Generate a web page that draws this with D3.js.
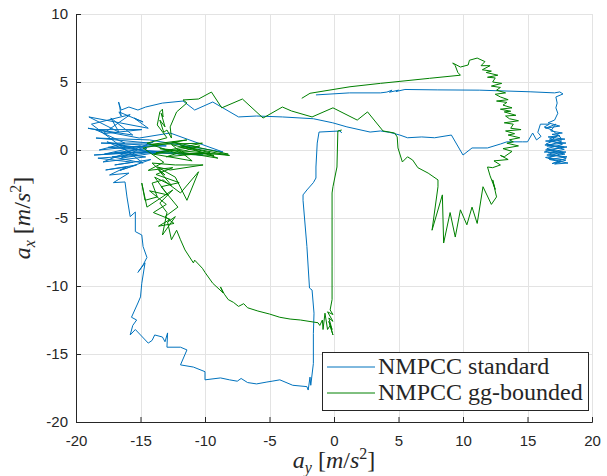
<!DOCTYPE html>
<html><head><meta charset="utf-8">
<script src="https://cdn.jsdelivr.net/npm/d3@7"></script>
<style>body{margin:0;background:#fff}svg{display:block}</style>
</head><body><svg id="c" width="607" height="476"></svg>
<script>
const xTicks=[-20,-15,-10,-5,0,5,10,15,20];
const yTicks=[-20,-15,-10,-5,0,5,10];
const seriesNames=["NMPCC standard","NMPCC gg-bounded"];
const blueStandard=[
[-1.4,4.05],[1.2,4.2],[3.6,4.2],[4.1,4.26],[4.5,4.4],[4.3,4.25],[5.0,4.4],[4.8,4.3],[5.5,4.45],[8.0,4.42],[11.3,4.4],[15.2,4.28],[17.1,4.2],[17.5,4.27],[17.75,4.12],
[17.2,3.9],[17.3,3.45],[17.2,3.1],[17.35,2.7],[17.1,2.2],
[16.6,2.0],[17.5,1.76],[16.4,1.6],[17.2,1.9],[16.8,1.4],[17.7,1.25],[16.9,1.15],[17.5,1.05],
[16.6,0.96],[17.9,0.8],[16.4,0.66],[17.98,0.51],[16.35,0.37],[18.06,0.22],[16.4,0.0],[17.98,-0.15],[16.5,-0.37],[18.06,-0.5],[16.7,-0.7],[18.14,-0.96],[17.1,-1.03],[17.98,-0.74],[16.6,-0.6],[17.75,-0.22],[16.3,-0.15],[17.8,0.22],[16.5,0.29],[17.65,0.66],[16.7,0.8],[17.4,1.1],
[16.8,0.7],[17.7,0.4],[16.5,0.1],[17.9,-0.3],[16.4,-0.55],[17.6,-0.85],[16.9,-1.0],[18.0,-0.6],[16.6,-0.2],[17.85,0.05],[16.45,0.45],[17.6,0.9],
[16.9,1.47],[16.3,1.69],[16.7,1.9],[16.0,1.9],[15.8,1.3],[16.05,1.0],[15.7,0.74],[15.4,1.25],[15.0,0.6],[14.6,0.6],[13.4,0.6],[12.9,0.44],[11.9,0.15],[10.7,0.15],[10.0,-0.37],[9.1,1.1],[7.8,0.9],[6.8,0.96],[5.7,0.9],[5.1,1.1],[4.3,1.3],[3.6,1.4],[2.8,1.32],[1.0,1.7],[-0.1,2.0],[-1.6,2.3],[-4.0,2.43],[-6.0,2.5],[-7.4,2.43],[-9.4,3.53],[-10.8,2.94],[-11.7,3.6],[-13.3,3.45],[-14.6,3.16],[-15.2,2.94],[-15.9,3.16],[-16.5,2.94],[-16.7,3.53],[-16.6,3.1],[-16.5,2.5],
[-16.67,2.8],[-14.8,2.06],[-15.5,2.35],[-14.4,1.6],[-19.0,2.43],[-16.67,1.32],[-17.3,2.35],[-15.6,1.1],[-19.07,1.6],[-15.1,0.88],[-12.7,1.25],[-8.6,-0.15],[-14.3,0.74],[-18.45,0.88],[-14.3,0.51],[-18.06,0.51],[-13.0,0.3],[-17.5,0.2],[-10.15,-0.37],[-15.35,-0.15],[-18.6,-0.37],[-13.5,-0.1],[-17.0,-0.2],[-14.6,-0.51],[-17.9,-0.88],[-14.0,0.6],[-16.5,-0.6],[-12.5,0.0],[-17.2,-0.5],[-14.8,-0.96],
[-18.8,1.9],[-15.8,2.6],[-17.9,1.2],[-14.9,1.5],[-18.5,1.5],[-16.2,0.5],[-18.2,0.0],[-15.0,0.3],[-17.8,-0.3],[-14.5,0.1],[-16.8,0.4],[-13.8,-0.3],[-17.6,0.6],[-15.2,-0.4],[-18.3,-0.6],[-15.6,-0.9],[-17.0,-1.1],[-14.2,-0.7],[-16.6,-1.5],[-15.3,-1.1],
[-17.7,-1.47],[-16.1,-1.25],[-17.4,-1.84],[-15.9,-1.7],
[-17.1,-2.4],[-16.2,-2.35],[-16.05,-3.45],[-15.8,-4.9],[-15.4,-4.56],[-15.4,-6.0],[-14.9,-6.25],[-14.8,-7.1],[-14.5,-7.9],[-14.8,-8.45],[-15.2,-9.0],[-14.65,-8.3],[-14.9,-9.8],[-15.0,-10.8],[-15.2,-11.25],[-15.7,-12.3],[-15.3,-12.5],[-15.6,-12.9],[-15.8,-13.6],[-15.4,-13.2],[-15.0,-13.6],[-14.4,-14.2],[-14.1,-14.0],[-13.9,-13.6],[-13.3,-13.75],[-13.1,-14.1],[-12.9,-13.45],[-12.95,-14.5],[-11.9,-14.5],[-11.4,-14.7],[-11.9,-15.8],[-10.9,-15.96],[-10.0,-16.3],[-10.0,-16.9],[-8.8,-16.76],[-8.1,-16.9],[-7.5,-17.0],[-7.2,-16.8],[-6.7,-17.1],[-6.0,-17.2],[-5.2,-17.06],[-4.8,-17.0],[-4.2,-16.9],[-3.2,-17.3],[-2.1,-17.4],[-2.0,-17.65],[-1.86,-16.7],[-1.8,-17.3],[-1.6,-15.7],[-1.6,-13.5],[-1.55,-12.0],[-1.7,-10.3],[-1.9,-10.15],[-2.1,-7.1],[-2.4,-3.7],[-2.4,-3.3],[-2.1,-2.94],[-1.6,-2.4],[-1.4,-2.06],[-1.4,-1.25],[-1.3,0.51],[-1.16,1.32],[0.47,1.4],[0.6,1.25]
];
const greenBounded=[
[0.6,1.47],[0.3,1.4],[0.23,-1.25],[-0.08,-2.7],[-0.15,-3.16],[-0.15,-8.6],[-0.15,-11.0],[-0.3,-11.76],[-0.08,-12.1],[-0.5,-11.9],[-0.08,-12.6],[-0.4,-12.35],[-0.15,-13.2],[-0.4,-12.6],[-0.08,-13.6],[-0.3,-12.9],[-0.5,-13.2],[-0.7,-12.0],[-0.85,-13.2],[-0.9,-12.5],[-1.1,-12.9],[-1.24,-12.7],[-1.6,-12.65],[-2.6,-12.5],[-3.4,-12.43],[-4.2,-12.3],[-5.0,-12.06],[-5.9,-11.84],[-6.7,-11.6],[-7.0,-11.3],[-7.4,-11.5],[-7.8,-11.2],[-8.2,-11.0],[-8.5,-10.6],[-8.8,-10.07],[-8.6,-10.5],[-9.4,-9.8],[-10.0,-9.0],[-10.2,-8.7],[-10.8,-8.1],[-10.9,-8.3],[-11.55,-7.35],[-11.9,-6.6],
[-12.2,-5.9],[-12.6,-6.6],[-12.9,-5.3],[-12.3,-4.9],[-13.3,-6.25],[-12.95,-4.6],[-13.5,-3.9],[-12.5,-2.94],[-14.5,-4.2],[-14.9,-2.43],[-14.65,-3.7],[-13.7,-3.45],[-14.1,-2.43],[-13.25,-2.2],[-11.9,-3.16],[-10.5,-1.6],[-11.4,-3.7],[-12.3,-2.0],[-13.7,-1.25],[-12.7,-1.47],[-10.15,-1.1],[-12.3,-1.1],[-14.1,-0.96],[-13.1,-1.84],[-13.6,-1.47],
[-12.6,-2.6],[-13.9,-2.0],[-12.9,-3.3],[-14.3,-3.0],[-13.0,-4.0],[-14.0,-4.6],[-12.7,-5.1],[-13.6,-5.6],[-12.4,-5.4],[-13.1,-4.9],[-12.1,-4.2],[-13.4,-2.7],[-12.0,-2.4],[-13.8,-1.8],[-12.5,-1.3],[-14.4,-1.5],[-13.2,-0.9],
[-14.8,0.15],[-11.4,0.74],[-14.3,0.4],[-10.2,0.5],[-13.8,-0.2],[-8.2,-0.3],[-12.5,0.6],[-9.0,-0.6],[-13.5,0.1],[-8.1,-0.4],[-11.9,0.3],[-9.6,-0.2],[-13.0,-0.5],[-10.4,0.3],[-14.0,-0.3],[-11.0,-0.8],[-12.6,0.4],[-9.3,-0.4],[-12.0,-0.3],[-14.5,0.5],[-12.95,0.9],
[-13.7,1.84],[-13.5,2.8],[-13.3,3.0],[-13.25,2.43],[-13.4,2.7],[-13.1,1.7],[-13.5,2.2],[-13.2,1.3],[-12.95,1.47],[-12.6,0.88],[-12.7,1.7],[-12.2,2.8],[-11.4,3.46],[-11.7,3.68],[-10.5,3.75],[-9.5,4.26],[-8.7,3.1],[-7.1,3.75],[-5.5,2.35],[-4.0,3.16],[-3.3,2.87],[-1.7,2.43],[-0.08,3.1],[1.8,2.2],[2.6,2.8],[3.8,1.4],[4.7,1.25],[4.9,0.96],[4.96,0.15],[5.3,-0.88],[5.7,-0.5],[6.1,-0.74],[6.5,-1.3],[7.3,-1.7],[8.06,-2.2],[8.06,-2.7],
[7.6,-5.9],[8.4,-3.3],[8.5,-6.84],[9.0,-4.6],[9.4,-6.4],[9.8,-4.4],[10.3,-5.5],[10.7,-4.2],[11.1,-5.4],[11.55,-2.7],[12.2,-4.0],[12.6,-3.45],[12.3,-2.2],[12.5,-2.9],[12.1,-1.9],[11.9,-1.25],[12.3,-1.3],
[12.9,-1.1],[12.4,-0.8],[13.5,-0.7],[12.9,-0.4],[13.2,-0.5],[13.8,-0.1],[13.1,0.1],[14.3,0.3],[13.4,0.5],[13.9,0.6],[13.6,0.75],[14.4,0.9],[13.5,1.1],[14.0,1.2],[13.3,1.4],[14.5,1.5],[13.7,1.6],[13.9,1.9],[13.2,2.0],[14.3,2.15],[13.6,2.3],[13.3,2.5],[14.1,2.55],[13.2,2.8],[13.7,2.85],[12.9,3.0],[13.8,3.1],[13.1,3.3],[13.4,3.5],[12.6,3.6],[13.5,3.7],[12.9,3.9],[12.5,4.1],[13.3,4.2],[12.6,4.4],[12.9,4.6],[12.2,4.7],[13.0,4.9],[12.3,5.0],[12.5,5.3],[11.9,5.35],[12.7,5.5],[11.8,5.7],[12.2,5.8],[11.5,5.9],[12.1,6.2],[11.4,6.2],[11.7,6.5],[11.1,6.76],
[10.5,6.6],[10.4,6.25],[9.8,6.1],[9.2,6.4],[9.4,6.2],[9.6,5.7],[9.8,5.5],[7.4,5.27],[3.6,4.9],[1.24,4.65],[-1.86,4.17],[-2.5,3.8]
];
const colors=["#0072BD","#008000"];

const svg=d3.select("#c");
const x=d3.scaleLinear().domain([-20,20]).range([76,592]);
const y=d3.scaleLinear().domain([-20,10]).range([422,14]);
const ink="#262626";

const grid=svg.append("g").attr("stroke","#e3e3e3").attr("stroke-width",1);
xTicks.forEach(t=>grid.append("line").attr("x1",Math.round(x(t))+0.5).attr("x2",Math.round(x(t))+0.5).attr("y1",y(-20)).attr("y2",y(10)));
yTicks.forEach(t=>grid.append("line").attr("y1",Math.round(y(t))+0.5).attr("y2",Math.round(y(t))+0.5).attr("x1",x(-20)).attr("x2",x(20)));

const line=d3.line().x(d=>x(d[0])).y(d=>y(d[1]));
[blueStandard,greenBounded].forEach((s,i)=>{
  svg.append("path").datum(s).attr("d",line).attr("fill","none")
    .attr("stroke",colors[i]).attr("stroke-width",1).attr("stroke-linejoin","round");
});

const fmt=d=>String(d);
const gx=svg.append("g").attr("transform",`translate(0,${y(-20)})`)
  .call(d3.axisBottom(x).tickValues(xTicks).tickFormat(fmt).tickSize(-5).tickPadding(13));
const gy=svg.append("g").attr("transform",`translate(${x(-20)},0)`)
  .call(d3.axisLeft(y).tickValues(yTicks).tickFormat(fmt).tickSize(-5).tickPadding(8));
[gx,gy].forEach(g=>{
  g.select(".domain").attr("stroke",ink);
  g.selectAll(".tick line").attr("stroke",ink);
  g.selectAll(".tick text").attr("fill",ink).style("font-family","'Liberation Sans',Arial,sans-serif").style("font-size","15px");
});

function mathLabel(g,sub){
  const t=g.append("text").style("font-family","'Liberation Serif','Times New Roman',serif").style("font-size","24px").attr("fill",ink);
  t.append("tspan").style("font-style","italic").text("a");
  t.append("tspan").style("font-style","italic").style("font-size","16px").attr("dy",5).text(sub);
  t.append("tspan").attr("dy",-5).text(" [");
  t.append("tspan").style("font-style","italic").text("m");
  t.append("tspan").text("/");
  t.append("tspan").style("font-style","italic").text("s");
  t.append("tspan").style("font-size","16px").attr("dy",-9).text("2");
  t.append("tspan").attr("dy",9).text("]");
  return t;
}
const xl=svg.append("g").attr("transform","translate(334,468)");
mathLabel(xl,"y").attr("text-anchor","middle");
const yl=svg.append("g").attr("transform","translate(30,218) rotate(-90)");
mathLabel(yl,"x").attr("text-anchor","middle");

const lg=svg.append("g");
lg.append("rect").attr("x",322.5).attr("y",352.5).attr("width",266).attr("height",58)
  .attr("fill","#fff").attr("stroke",ink).attr("stroke-width",1);
seriesNames.forEach((n,i)=>{
  const yy=367+i*26;
  lg.append("line").attr("x1",327).attr("x2",375).attr("y1",yy).attr("y2",yy).attr("stroke",colors[i]).attr("stroke-width",1);
  lg.append("text").attr("x",378).attr("y",yy+7).attr("fill",ink)
    .style("font-family","'Liberation Serif','Times New Roman',serif").style("font-size","24px").text(n);
});
</script></body></html>
